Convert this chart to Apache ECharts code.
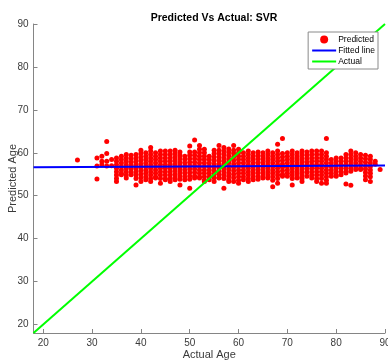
<!DOCTYPE html>
<html>
<head>
<meta charset="utf-8">
<script src="https://cdn.jsdelivr.net/npm/echarts@6/dist/echarts.min.js"></script>
<style>
  html, body { margin: 0; padding: 0; background: #fff; }
  #chart { width: 388px; height: 361px; }
</style>
</head>
<body>
<div id="chart"></div>
<script>
// actual ages (one column of predictions per age)
const ages = [27, 31, 32, 33, 34, 35, 36, 37, 38, 39, 40, 41, 42, 43, 44, 45, 46, 47, 48, 49,
  50, 51, 52, 53, 54, 55, 56, 57, 58, 59, 60, 61, 62, 63, 64, 65, 66, 67, 68, 69,
  70, 71, 72, 73, 74, 75, 76, 77, 78, 79, 80, 81, 82, 83, 84, 85, 86, 87, 88, 89];

// predicted ages, per actual age
const predictedByAge = [
  [58.3],
  [58.8, 56.9, 53.9],
  [59.2, 58.0, 57.2],
  [62.6, 59.8, 58.0, 56.9],
  [58.4, 57.0],
  [58.8, 58.0, 57.2, 56.4, 55.6, 54.8, 54.0, 53.3],
  [59.2, 58.4, 57.6, 56.8, 56.0, 55.2, 54.9],
  [59.6, 58.8, 58.0, 57.2, 56.4, 55.6, 54.8, 54.1],
  [59.4, 58.6, 57.8, 57.0, 56.2, 55.4, 54.9],
  [59.6, 58.8, 58.0, 57.2, 56.4, 55.6, 54.8, 54.0, 52.5],
  [60.6, 59.8, 59.0, 58.2, 57.4, 56.6, 55.8, 55.0, 54.2, 53.3],
  [60.0, 59.2, 58.4, 57.6, 56.8, 56.0, 55.2, 54.4, 53.7],
  [61.2, 60.4, 59.6, 58.8, 58.0, 57.2, 56.4, 55.6, 54.8, 54.0, 53.3],
  [60.0, 59.2, 58.4, 57.6, 56.8, 56.0, 55.2, 54.4, 54.1],
  [60.4, 59.6, 58.8, 58.0, 57.2, 56.4, 55.6, 54.8, 54.0, 52.9],
  [60.4, 59.6, 58.8, 58.0, 57.2, 56.4, 55.6, 54.8, 54.0, 53.7],
  [60.4, 59.6, 58.8, 58.0, 57.2, 56.4, 55.6, 54.8, 54.0, 53.3],
  [60.6, 59.8, 59.0, 58.2, 57.4, 56.6, 55.8, 55.0, 54.2, 53.7],
  [60.2, 59.4, 58.6, 57.8, 57.0, 56.2, 55.4, 54.6, 53.8, 52.5],
  [59.2, 58.4, 57.6, 56.8, 56.0, 55.2, 54.4, 53.7],
  [61.6, 60.2, 59.4, 58.6, 57.8, 57.0, 56.2, 55.4, 54.6, 53.8, 51.7],
  [63.0, 60.2, 59.4, 58.6, 57.8, 57.0, 56.2, 55.4, 54.6, 54.1],
  [61.7, 60.8, 60.0, 59.2, 58.4, 57.6, 56.8, 56.0, 55.2, 54.4, 54.1],
  [60.8, 60.0, 59.2, 58.4, 57.6, 56.8, 56.0, 55.2, 54.4, 53.6, 53.3],
  [59.2, 58.4, 57.6, 56.8, 56.0, 55.2, 54.4, 53.7],
  [60.6, 59.8, 59.0, 58.2, 57.4, 56.6, 55.8, 55.0, 54.2, 53.3],
  [61.7, 60.6, 59.8, 59.0, 58.2, 57.4, 56.6, 55.8, 55.0, 54.2, 54.1],
  [61.2, 60.4, 59.6, 58.8, 58.0, 57.2, 56.4, 55.6, 54.8, 54.0, 51.7],
  [60.9, 60.1, 59.3, 58.5, 57.7, 56.9, 56.1, 55.3, 54.5, 53.7, 53.3],
  [61.7, 60.6, 59.8, 59.0, 58.2, 57.4, 56.6, 55.8, 55.0, 54.2, 53.3],
  [60.8, 60.0, 59.2, 58.4, 57.6, 56.8, 56.0, 55.2, 54.4, 53.6, 52.9],
  [60.0, 59.2, 58.4, 57.6, 56.8, 56.0, 55.2, 54.4, 53.7],
  [60.4, 59.6, 58.8, 58.0, 57.2, 56.4, 55.6, 54.8, 54.0, 53.3],
  [60.0, 59.2, 58.4, 57.6, 56.8, 56.0, 55.2, 54.4, 53.7],
  [60.2, 59.4, 58.6, 57.8, 57.0, 56.2, 55.4, 54.6, 53.8],
  [60.0, 59.2, 58.4, 57.6, 56.8, 56.0, 55.2, 54.4, 54.1],
  [60.4, 59.6, 58.8, 58.0, 57.2, 56.4, 55.6, 54.8, 54.1],
  [60.0, 59.2, 58.4, 57.6, 56.8, 56.0, 55.2, 54.4, 53.6, 52.1],
  [62.0, 60.4, 59.6, 58.8, 58.0, 57.2, 56.4, 55.6, 54.8, 54.0, 52.9],
  [63.3, 59.8, 59.0, 58.2, 57.4, 56.6, 55.8, 55.0, 54.5],
  [60.0, 59.2, 58.4, 57.6, 56.8, 56.0, 55.2, 54.5],
  [60.4, 59.6, 58.8, 58.0, 57.2, 56.4, 55.6, 54.8, 54.0, 52.5],
  [60.0, 59.2, 58.4, 57.6, 56.8, 56.0, 55.2, 54.4, 54.1],
  [60.4, 59.6, 58.8, 58.0, 57.2, 56.4, 55.6, 54.8, 54.0, 53.3],
  [60.2, 59.4, 58.6, 57.8, 57.0, 56.2, 55.4, 54.5],
  [60.4, 59.6, 58.8, 58.0, 57.2, 56.4, 55.6, 54.8, 54.1],
  [60.4, 59.6, 58.8, 58.0, 57.2, 56.4, 55.6, 54.8, 54.0, 53.3],
  [60.4, 59.6, 58.8, 58.0, 57.2, 56.4, 55.6, 54.8, 54.0, 52.9],
  [63.3, 60.0, 59.2, 58.4, 57.6, 56.8, 56.0, 55.2, 54.4, 53.6, 52.9],
  [58.4, 57.6, 56.8, 56.0, 55.2, 54.5],
  [58.8, 58.0, 57.2, 56.4, 55.6, 54.8, 54.5],
  [58.8, 58.0, 57.2, 56.4, 55.6, 54.9],
  [59.6, 58.8, 58.0, 57.2, 56.4, 55.6, 55.3, 52.7],
  [60.4, 59.6, 58.8, 58.0, 57.2, 56.4, 55.7, 52.4],
  [60.0, 59.2, 58.4, 57.6, 56.8, 56.1],
  [59.6, 58.8, 58.0, 57.2, 56.4, 56.1],
  [59.4, 58.6, 57.8, 57.0, 56.2, 55.4, 54.6, 53.7],
  [59.2, 58.4, 57.6, 56.8, 56.0, 55.2, 54.4, 53.3],
  [58.0, 57.3],
  [56.1]
];

// fitted regression line end points and identity line
const fittedLine = [[18, 56.65], [90, 57.05]];
const actualLine = [[18, 18], [90, 90]];

const xTicks = [20, 30, 40, 50, 60, 70, 80, 90];
const yTicks = [20, 30, 40, 50, 60, 70, 80, 90];

const scatterData = [];
ages.forEach((a, i) => {
  predictedByAge[i].forEach(v => scatterData.push([a, v]));
});

const chart = echarts.init(document.getElementById('chart'));
const font = 'Liberation Sans, Arial, Helvetica, sans-serif';
const axisColor = '#858585';
const labelColor = '#3a3a3a';
const noSymbol = { color: 'rgba(0,0,0,0)', borderColor: 'rgba(0,0,0,0)', borderWidth: 0 };

const option = {
  backgroundColor: '#fff',
  animation: false,
  textStyle: { fontFamily: font },
  title: {
    text: 'Predicted Vs Actual: SVR',
    left: 209,
    top: 8,
    textAlign: 'center',
    textStyle: { fontSize: 10.5, fontWeight: 'bold', color: '#000', fontFamily: font }
  },
  grid: { left: 33.5, right: 3, top: 24, bottom: 28, containLabel: false, outerBoundsMode: 'none' },
  legend: {
    orient: 'vertical',
    right: 10,
    top: 32,
    itemWidth: 24,
    itemHeight: 8,
    itemGap: 2,
    padding: [3, 3, 3, 3],
    borderColor: '#8a8a8a',
    borderWidth: 1,
    backgroundColor: '#fff',
    borderRadius: 0,
    textStyle: { fontSize: 8.5, color: '#000', fontFamily: font, padding: [0, 0, 0, -3] },
    data: [
      { name: 'Predicted', icon: 'circle' },
      { name: 'Fitted line', itemStyle: noSymbol },
      { name: 'Actual', itemStyle: noSymbol }
    ]
  },
  xAxis: {
    type: 'value',
    min: 18,
    max: 90,
    name: 'Actual Age',
    nameLocation: 'middle',
    nameGap: 16,
    nameMoveOverlap: false,
    nameTextStyle: { fontSize: 11, color: labelColor },
    axisLine: { show: true, lineStyle: { color: axisColor, width: 1 } },
    axisTick: { show: true, inside: true, length: 4, customValues: xTicks, lineStyle: { color: axisColor } },
    axisLabel: { customValues: xTicks, fontSize: 10, color: labelColor, margin: 5 },
    splitLine: { show: false }
  },
  yAxis: {
    type: 'value',
    min: 18,
    max: 90,
    name: 'Predicted Age',
    nameLocation: 'middle',
    nameRotate: 90,
    nameGap: 15,
    nameMoveOverlap: false,
    nameTextStyle: { fontSize: 11, color: labelColor },
    axisLine: { show: true, lineStyle: { color: axisColor, width: 1 } },
    axisTick: { show: true, inside: true, length: 4, customValues: yTicks, lineStyle: { color: axisColor } },
    axisLabel: { customValues: yTicks, fontSize: 10, color: labelColor, margin: 5 },
    splitLine: { show: false }
  },
  series: [
    {
      name: 'Predicted',
      type: 'scatter',
      data: scatterData,
      symbol: 'circle',
      symbolSize: 5,
      itemStyle: { color: '#ff0000', opacity: 1 }
    },
    {
      name: 'Fitted line',
      type: 'line',
      data: fittedLine,
      symbol: 'none',
      lineStyle: { color: '#0000ff', width: 2 },
      itemStyle: { color: '#0000ff' }
    },
    {
      name: 'Actual',
      type: 'line',
      data: actualLine,
      symbol: 'none',
      lineStyle: { color: '#00ff00', width: 2 },
      itemStyle: { color: '#00ff00' }
    }
  ]
};
chart.setOption(option);
</script>
</body>
</html>
